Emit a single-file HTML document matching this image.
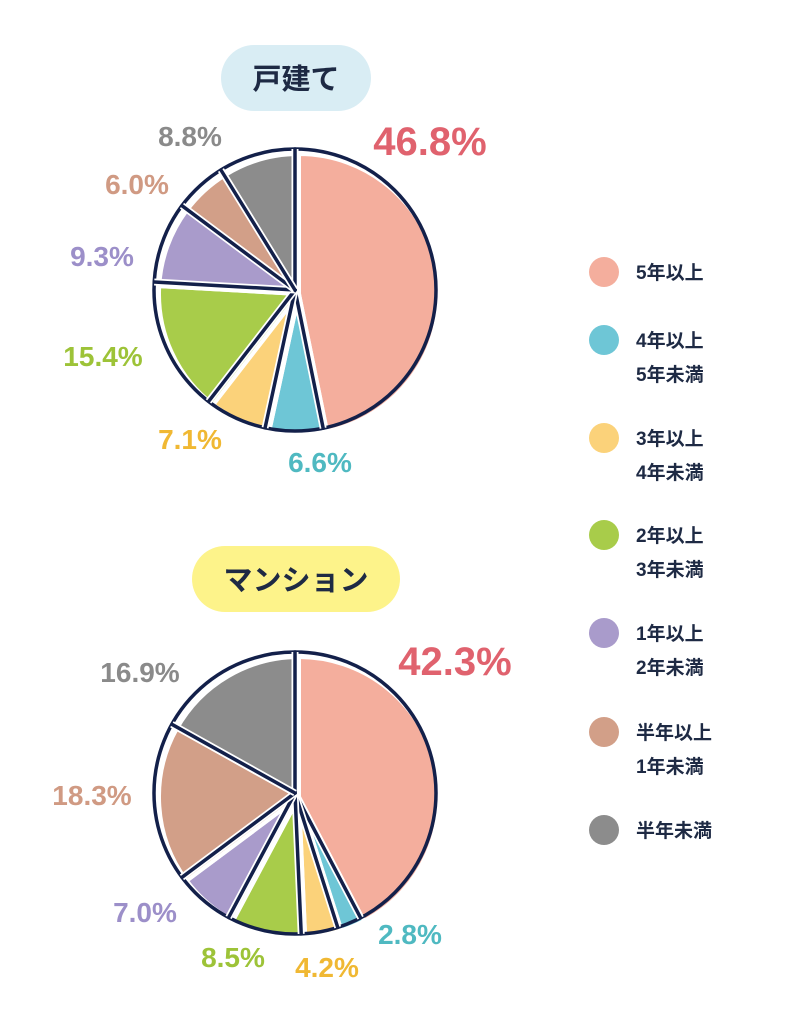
<!DOCTYPE html>
<html><head><meta charset="utf-8">
<style>
body{margin:0;background:#fff;width:796px;height:1024px;overflow:hidden;font-family:"Liberation Sans","Noto Sans CJK JP",sans-serif;}
svg{position:absolute;left:0;top:0}
</style></head>
<body>
<svg id="chart" width="796" height="1024">
  <rect x="221" y="45" width="150" height="66" rx="33" fill="#d9edf4"/>
  <text x="296" y="89" text-anchor="middle" font-size="29" font-weight="bold" fill="#1e2a44" font-family="Liberation Sans, Noto Sans CJK JP, sans-serif">戸建て</text>
  <rect x="192" y="546" width="208" height="66" rx="33" fill="#fdf38a"/>
  <text x="296" y="590" text-anchor="middle" font-size="29" font-weight="bold" fill="#1e2a44" font-family="Liberation Sans, Noto Sans CJK JP, sans-serif">マンション</text>
  <g id="pies"></g>
  <g id="legend"></g>
</svg>
<script>
const categories = ["5年以上","4年以上5年未満","3年以上4年未満","2年以上3年未満","1年以上2年未満","半年以上1年未満","半年未満"];
const detachedValues = [46.8, 6.6, 7.1, 15.4, 9.3, 6.0, 8.8];
const mansionValues = [42.3, 2.8, 4.2, 8.5, 7.0, 18.3, 16.9];
const legendLines = [["5年以上"],["4年以上","5年未満"],["3年以上","4年未満"],["2年以上","3年未満"],["1年以上","2年未満"],["半年以上","1年未満"],["半年未満"]];
const fills = ["#f4ae9d","#6ec6d6","#fbd27a","#a8cc4a","#a99bcb","#d29f88","#8c8c8c"];
const labelColors = ["#e0626e","#4fb9c1","#f0b833","#9dc338","#9c8fc9","#d09a83","#8a8a8a"];
const NS="http://www.w3.org/2000/svg";
function mk(tag,attrs,parent){const e=document.createElementNS(NS,tag);for(const k in attrs)e.setAttribute(k,attrs[k]);parent.appendChild(e);return e;}
const pies=document.getElementById('pies');
function angle(frac){return frac*2*Math.PI;}
function pt(cx,cy,r,a){return [cx+r*Math.sin(a), cy-r*Math.cos(a)];}
// label placements are layout (manual offsets near slices), not data
const detachedLabelPos=[[430,155],[320,472],[190,449],[103,366],[102,266],[137,194],[190,146]];
const mansionLabelPos=[[455,675],[410,944],[327,977],[233,967],[145,922],[92,805],[140,682]];
function drawPie(values,cx,cy,r,labelPos,key){
  const total=values.reduce((a,b)=>a+b,0);
  const g=mk('g',{},pies);
  
  
  let acc=0;
  const bounds=[];
  values.forEach((v,i)=>{
    const a0=angle(acc/total), a1=angle((acc+v)/total);
    bounds.push(a0);
    const ox=cx+4, oy=cy+4;
    const p0=pt(ox,oy,r-1,a0), p1=pt(ox,oy,r-1,a1);
    const large=(a1-a0)>Math.PI?1:0;
    const s=mk('path',{d:`M${ox},${oy} L${p0[0]},${p0[1]} A${r-1},${r-1} 0 ${large} 1 ${p1[0]},${p1[1]} Z`,fill:fills[i],stroke:'#fff','stroke-width':4,'stroke-linejoin':'round'},g);
    
    
    acc+=v;
  });
  const c=mk('circle',{cx:cx,cy:cy,r:r,fill:'none',stroke:'#13204a','stroke-width':3.5},g);
  
  
  bounds.forEach(a=>{
    const p=pt(cx,cy,r,a);
    mk('line',{x1:cx,y1:cy,x2:p[0],y2:p[1],stroke:'#fff','stroke-width':7},g);
    const l=mk('line',{x1:cx,y1:cy,x2:p[0],y2:p[1],stroke:'#13204a','stroke-width':3.5,'stroke-linecap':'round'},g);
    
    
  });
  values.forEach((v,i)=>{
    const t=mk('text',{x:labelPos[i][0],y:labelPos[i][1],'text-anchor':'middle','font-size':i===0?40:28,'font-weight':'bold',fill:labelColors[i],'font-family':'Liberation Sans, sans-serif'},g);
    t.textContent=v.toFixed(1)+'%';
    
    
  });
}
drawPie(detachedValues,295,290,141,detachedLabelPos,'detached');
drawPie(mansionValues,295,793,141,mansionLabelPos,'mansion');
const leg=document.getElementById('legend');
const legY=[272,340,438,535,633,732,830];
legendLines.forEach((lines,i)=>{
  const g=mk('g',{},leg);
  
  
  const c=mk('circle',{cx:604,cy:legY[i],r:15,fill:fills[i]},g);
  
  
  lines.forEach((s,j)=>{
    const t=mk('text',{x:636,y:legY[i]+7+j*34,'font-size':19,'font-weight':'bold',fill:'#1e2a44','font-family':'Liberation Sans, Noto Sans CJK JP, sans-serif'},g);
    t.textContent=s;
    
    
  });
});
</script>
</body></html>
